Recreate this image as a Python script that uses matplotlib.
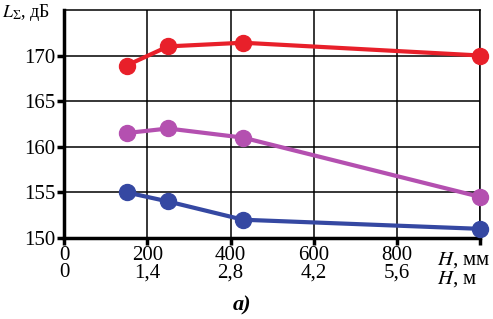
import matplotlib
matplotlib.use("Agg")
import matplotlib.pyplot as plt

H_mm = [150, 250, 430, 1000]
red = [168.9, 171.0, 171.4, 170.0]
purple = [161.5, 162.0, 161.0, 154.5]
blue = [155.0, 154.0, 152.0, 151.0]
xticks = [0, 200, 400, 600, 800]
xlab_mm = ["0", "200", "400", "600", "800"]
xlab_m = ["0", "1,4", "2,8", "4,2", "5,6"]
yticks = [150, 155, 160, 165, 170]

plt.rcParams['font.family'] = ['Liberation Serif', 'DejaVu Serif']
plt.rcParams['mathtext.fontset'] = 'stix'

fig = plt.figure(figsize=(4.93, 3.19), dpi=100)
ax = fig.add_axes([0.130, 0.254, 0.844, 0.715])

colors = {'red': '#e8202a', 'purple': '#b450b0', 'blue': '#3548a2'}
for ys, c in [(red, colors['red']), (purple, colors['purple']), (blue, colors['blue'])]:
    ax.plot(H_mm, ys, color=c, lw=3, marker='o', ms=11.5, zorder=3, clip_on=False)

ax.set_xlim(0, 1000)
ax.set_ylim(150, 175)
ax.set_xticks(xticks + [1000])
ax.set_xticklabels([f"{a}\n{b}" for a, b in zip(xlab_mm, xlab_m)] + [""], fontsize=15, linespacing=0.85)
ax.set_yticks(yticks)
ax.set_yticklabels([str(v) for v in yticks], fontsize=15)
ax.grid(True, color='black', lw=1.1)
ax.set_axisbelow(True)
for s in ['left', 'bottom']:
    ax.spines[s].set_linewidth(2.5)
for s in ['top', 'right']:
    ax.spines[s].set_linewidth(1.1)
ax.tick_params(axis='both', direction='out', width=2.5, length=5, pad=1)

ax.text(897, -0.055, r"$H$, мм", transform=ax.get_xaxis_transform(), ha='left', va='top', fontsize=15)
ax.text(897, -0.135, r"$H$, м", transform=ax.get_xaxis_transform(), ha='left', va='top', fontsize=15)
fig.text(0.004, 0.995, r"$L_{\Sigma}$, дБ", ha='left', va='top', fontsize=13)
fig.text(0.49, 0.01, "а)", ha='center', va='bottom', fontsize=16, fontweight='bold', fontstyle='italic')

fig.savefig("out.png", dpi=100)
